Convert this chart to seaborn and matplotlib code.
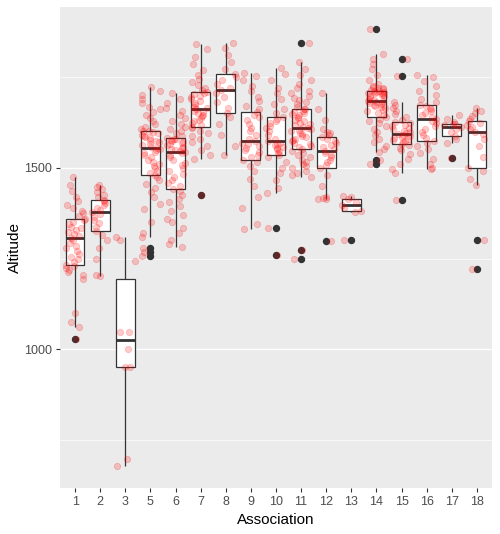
import numpy as np
import pandas as pd
import matplotlib
matplotlib.use("Agg")
import matplotlib.pyplot as plt
import seaborn as sns
from matplotlib.ticker import FixedLocator

# categories on the x axis (association 4 is absent)
associations = ["1", "2", "3", "5", "6", "7", "8", "9", "10",
                "11", "12", "13", "14", "15", "16", "17", "18"]

# altitude values per association
alt_1 = [1030, 1061, 1075, 1100, 1195, 1205, 1212, 1218, 1224, 1229, 1232,
         1240, 1248, 1255, 1262, 1270, 1278, 1285, 1293, 1300, 1307,
         1312, 1318, 1322, 1328, 1333, 1338, 1344, 1350, 1355, 1360,
         1366, 1374, 1382, 1390, 1398, 1408, 1420, 1436, 1452, 1473]
alt_2 = [1202, 1204, 1248, 1280, 1300, 1315, 1327, 1338, 1348, 1356, 1364,
         1372, 1378, 1384, 1390, 1396, 1402, 1407, 1412, 1418, 1426, 1434,
         1440, 1447, 1451]
alt_3 = [1309, 1300, 1242, 1049, 1049, 1001, 951, 951, 698, 679]
alt_5 = [1258, 1268, 1280, 1308, 1320, 1350, 1385, 1400, 1418, 1432, 1445,
         1455, 1465, 1473, 1480, 1486, 1492, 1498, 1504, 1510, 1516, 1522,
         1528, 1534, 1539, 1544, 1548, 1551, 1554, 1558, 1562, 1566, 1570,
         1573, 1577, 1581, 1584, 1588, 1591, 1594, 1597, 1600, 1602, 1607,
         1613, 1620, 1628, 1636, 1645, 1652, 1660, 1668, 1677, 1688, 1700,
         1712, 1722]
alt_6 = [1283, 1290, 1300, 1320, 1335, 1350, 1360, 1370, 1380, 1395, 1405,
         1415, 1425, 1435, 1442, 1450, 1458, 1466, 1474, 1482, 1490, 1498,
         1506, 1514, 1521, 1528, 1534, 1539, 1543, 1546, 1549, 1552, 1555,
         1558, 1561, 1564, 1567, 1570, 1573, 1576, 1578, 1580, 1582, 1588,
         1594, 1600, 1606, 1612, 1620, 1628, 1636, 1645, 1655, 1665, 1678,
         1690, 1704]
alt_7 = [1426, 1523, 1535, 1548, 1560, 1570, 1580, 1588, 1595, 1602, 1608,
         1613, 1618, 1622, 1627, 1632, 1637, 1642, 1646, 1650, 1654, 1657,
         1660, 1664, 1668, 1673, 1678, 1683, 1688, 1693, 1698, 1702, 1706,
         1709, 1714, 1720, 1727, 1735, 1745, 1755, 1768, 1785, 1805, 1825,
         1839]
alt_8 = [1534, 1560, 1590, 1620, 1640, 1651, 1665, 1680, 1695, 1705, 1713,
         1720, 1730, 1740, 1750, 1758, 1770, 1790, 1810, 1830, 1843]
alt_9 = [1330, 1345, 1390, 1420, 1450, 1470, 1490, 1505, 1515, 1522, 1528,
         1535, 1542, 1548, 1554, 1560, 1565, 1569, 1573, 1580, 1590, 1600,
         1610, 1620, 1630, 1638, 1645, 1652, 1660, 1670, 1682, 1695, 1710,
         1725, 1740, 1752, 1761]
alt_10 = [1261, 1335, 1429, 1445, 1465, 1485, 1500, 1515, 1528, 1536, 1540,
          1545, 1550, 1554, 1558, 1562, 1566, 1569, 1572, 1580, 1590, 1600,
          1608, 1615, 1622, 1628, 1634, 1640, 1650, 1662, 1675, 1690, 1705,
          1720, 1740, 1758, 1773]
alt_11 = [1250, 1273, 1474, 1480, 1486, 1492, 1498, 1504, 1510, 1516, 1522,
          1528, 1535, 1541, 1547, 1552, 1556, 1560, 1564, 1568, 1572, 1576,
          1580, 1584, 1588, 1592, 1596, 1600, 1603, 1606, 1609, 1613, 1617,
          1620, 1624, 1628, 1632, 1636, 1640, 1644, 1648, 1651, 1654, 1657,
          1660, 1662, 1668, 1674, 1680, 1686, 1692, 1698, 1705, 1712, 1720,
          1730, 1742, 1756, 1772, 1791, 1843]
alt_12 = [1297, 1413, 1413, 1416, 1420, 1450, 1480, 1500, 1508, 1515, 1522,
          1530, 1536, 1541, 1545, 1550, 1556, 1562, 1568, 1574, 1580, 1585,
          1590, 1595, 1598, 1605, 1630, 1660, 1704]
alt_13 = [1300, 1378, 1380, 1390, 1397, 1405, 1415, 1420, 1422]
alt_14 = [1511, 1522, 1543, 1550, 1560, 1570, 1580, 1590, 1598, 1606, 1614,
          1622, 1628, 1634, 1640, 1645, 1650, 1655, 1659, 1663, 1666, 1669,
          1672, 1675, 1677, 1679, 1680, 1682, 1683, 1686, 1690, 1693, 1696,
          1698, 1700, 1702, 1704, 1705, 1706, 1708, 1709, 1710, 1712, 1714,
          1716, 1718, 1720, 1722, 1725, 1730, 1740, 1755, 1770, 1785, 1800,
          1813, 1882]
alt_15 = [1412, 1484, 1495, 1510, 1525, 1538, 1548, 1555, 1561, 1566, 1570,
          1573, 1576, 1579, 1582, 1585, 1588, 1590, 1592, 1595, 1598, 1602,
          1606, 1610, 1614, 1618, 1622, 1626, 1632, 1640, 1648, 1656, 1664,
          1672, 1681, 1753, 1799]
alt_16 = [1495, 1500, 1510, 1525, 1540, 1552, 1560, 1568, 1574, 1582, 1590,
          1598, 1606, 1614, 1622, 1629, 1635, 1640, 1645, 1650, 1655, 1660,
          1665, 1669, 1673, 1680, 1690, 1700, 1712, 1725, 1738, 1748, 1754]
alt_17 = [1527, 1568, 1578, 1586, 1598, 1606, 1613, 1616, 1619, 1621, 1626,
          1635, 1644]
alt_18 = [1220, 1300, 1453, 1470, 1490, 1500, 1530, 1560, 1580, 1592, 1598,
          1605, 1612, 1618, 1624, 1629, 1635, 1642, 1650, 1656, 1663]

altitudes = [alt_1, alt_2, alt_3, alt_5, alt_6, alt_7, alt_8, alt_9, alt_10,
             alt_11, alt_12, alt_13, alt_14, alt_15, alt_16, alt_17, alt_18]


# long table for seaborn
def build_frame():
    assoc, alt = [], []
    for name, vals in zip(associations, altitudes):
        assoc += [name] * len(vals)
        alt += vals
    return pd.DataFrame({"Association": assoc, "Altitude": alt})


def main():
    df = build_frame()

    sns.set_theme(style="darkgrid", rc={
        "axes.facecolor": "#EBEBEB",
        "grid.color": "white",
        "grid.linewidth": 1.0,
        "xtick.bottom": True,
        "ytick.left": True,
        "xtick.major.size": 3,
        "ytick.major.size": 3,
        "xtick.major.width": 0.8,
        "ytick.major.width": 0.8,
        "xtick.color": "#333333",
        "ytick.color": "#333333",
        "xtick.labelcolor": "#4D4D4D",
        "ytick.labelcolor": "#4D4D4D",
        "xtick.major.pad": 2.5,
        "ytick.major.pad": 2.5,
    })
    plt.rcParams["font.family"] = ["Liberation Sans", "DejaVu Sans"]

    fig, ax = plt.subplots(figsize=(5, 5.34), dpi=100)
    fig.subplots_adjust(left=0.12, right=0.984, top=0.987, bottom=0.0861)

    sns.boxplot(data=df, x="Association", y="Altitude", order=associations,
                width=0.75, color="white", linecolor="#333333", linewidth=0.9,
                showcaps=False, fliersize=4.3,
                flierprops=dict(marker="o", markerfacecolor="#333333",
                                markeredgecolor="#333333"),
                medianprops=dict(linewidth=2.0), ax=ax)

    np.random.seed(3)
    sns.stripplot(data=df, x="Association", y="Altitude", order=associations,
                  jitter=0.4, color="red", alpha=0.2, size=4.6,
                  linewidth=0.6, edgecolor="red", ax=ax, zorder=5)

    ax.set_xlim(-0.6, 16.6)
    ax.set_ylim(619, 1942)
    ax.set_yticks([1000, 1500])
    ax.yaxis.set_minor_locator(FixedLocator([750, 1250, 1750]))
    ax.grid(which="minor", axis="y", color="white", linewidth=0.5)
    ax.tick_params(which="minor", length=0)
    ax.tick_params(axis="both", labelsize=9)
    for s in ax.spines.values():
        s.set_visible(False)

    ax.set_xlabel("Association", fontsize=11, color="black", labelpad=3.5)
    ax.set_ylabel("Altitude", fontsize=11, color="black", labelpad=1.5)

    fig.savefig("out.png", dpi=100)
    plt.close(fig)


if __name__ == "__main__":
    main()
